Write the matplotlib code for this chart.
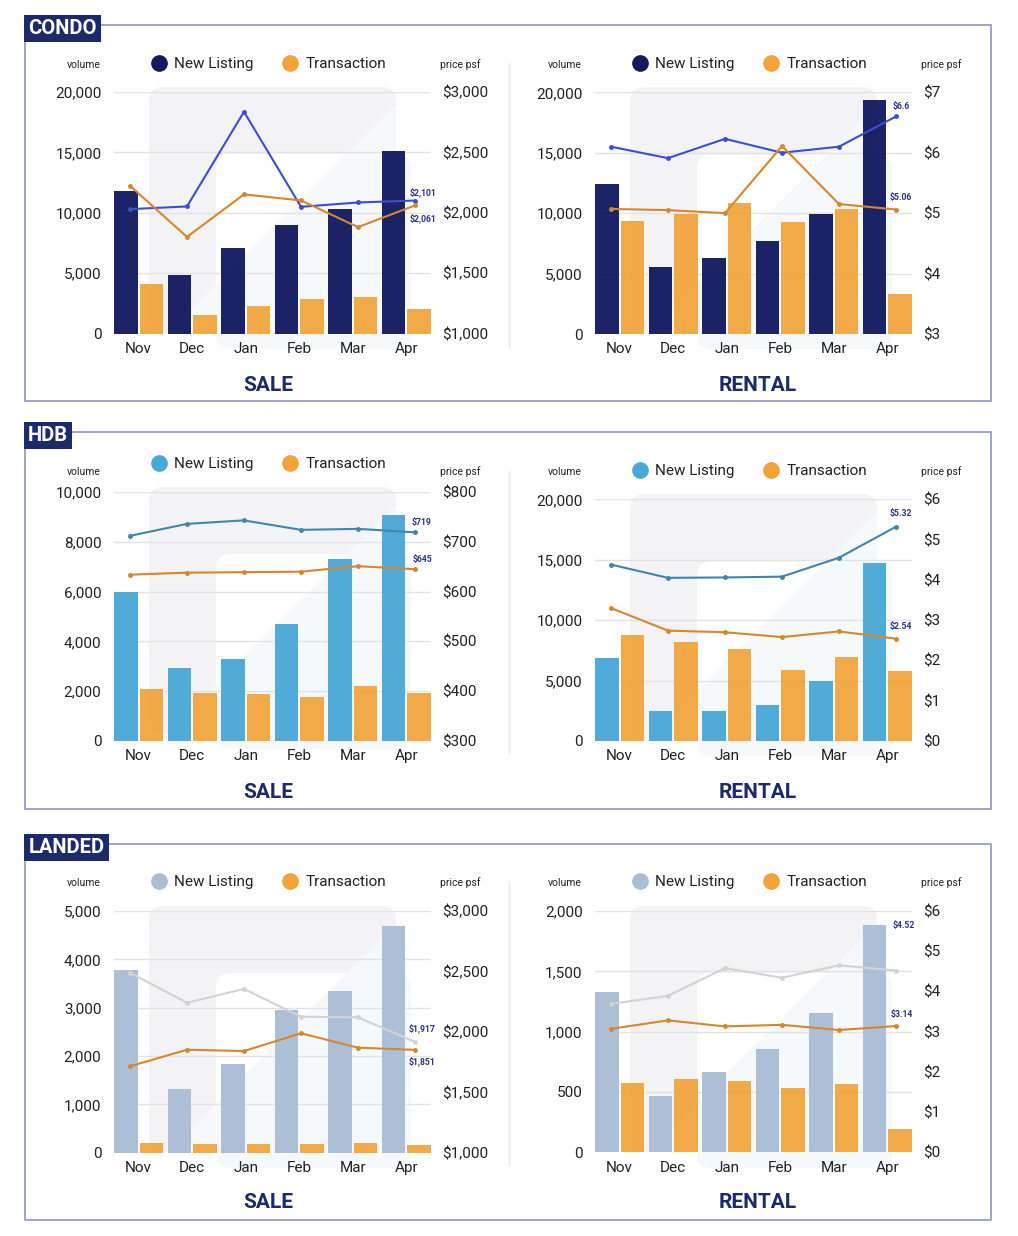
import matplotlib
matplotlib.use("Agg")
import matplotlib.pyplot as plt
from matplotlib.patches import Rectangle, FancyBboxPatch, Polygon
from matplotlib.lines import Line2D
from matplotlib.transforms import Affine2D

plt.rcParams["font.family"] = ["Roboto", "DejaVu Sans"]

# --- data ---
months = ["Nov", "Dec", "Jan", "Feb", "Mar", "Apr"]

condo_sale_new = [11820, 4830, 7120, 8950, 10270, 15130]
condo_sale_txn = [4140, 1570, 2260, 2870, 3030, 2070]
condo_sale_new_psf = [2030, 2052, 2836, 2049, 2085, 2101]
condo_sale_txn_psf = [2223, 1800, 2152, 2102, 1881, 2061]

condo_rent_new = [12440, 5520, 6270, 7700, 9960, 19340]
condo_rent_txn = [9350, 9960, 10820, 9270, 10350, 3310]
condo_rent_new_psf = [6.10, 5.91, 6.23, 6.00, 6.10, 6.6]
condo_rent_txn_psf = [5.07, 5.05, 5.00, 6.11, 5.15, 5.06]

hdb_sale_new = [5970, 2920, 3290, 4710, 7310, 9090]
hdb_sale_txn = [2090, 1910, 1890, 1780, 2220, 1910]
hdb_sale_new_psf = [712, 736, 743, 724, 726, 719]
hdb_sale_txn_psf = [634, 638, 639, 640, 651, 645]

hdb_rent_new = [6900, 2480, 2510, 2980, 4970, 14740]
hdb_rent_txn = [8800, 8200, 7640, 5850, 6950, 5790]
hdb_rent_new_psf = [4.38, 4.05, 4.06, 4.08, 4.55, 5.32]
hdb_rent_txn_psf = [3.30, 2.74, 2.70, 2.58, 2.72, 2.54]

landed_sale_new = [3780, 1310, 1830, 2950, 3350, 4700]
landed_sale_txn = [207, 186, 180, 174, 200, 153]
landed_sale_new_psf = [2489, 2241, 2355, 2125, 2120, 1917]
landed_sale_txn_psf = [1715, 1852, 1841, 1988, 1869, 1851]

landed_rent_new = [1331, 469, 666, 856, 1152, 1881]
landed_rent_txn = [574, 610, 593, 535, 569, 193]
landed_rent_new_psf = [3.69, 3.89, 4.58, 4.34, 4.65, 4.52]
landed_rent_txn_psf = [3.07, 3.28, 3.13, 3.17, 3.04, 3.14]

# --- styles ---
W, H = 1018, 1236
NAVY = "#1b2a6b"
ORANGE = "#f2a33a"
ORANGE_LINE = "#d8862a"
LABEL_C = "#2b3480"
FRAME_C = "#8e94c4"
TXT = "#222222"

fig = plt.figure(figsize=(W / 100, H / 100), dpi=100)
fig.patch.set_facecolor("white")
pix = Affine2D().scale(1 / W, 1 / H) + fig.transFigure


def P(x, y):
    return (x, H - y)


def frac(l, t, r, b):
    return [l / W, 1 - b / H, (r - l) / W, (b - t) / H]


def watermark(l, t):
    # faint logo behind each chart
    gx0, gx1, gy0, gy1 = l + 35, l + 282, t - 5, t + 241
    ix0, ix1, iy0, iy1 = l + 102, l + 297, t + 62, t + 257
    s = gx1 + t + 13  # diagonal: x + y = s
    upper = Polygon([P(l - 200, t - 200), P(s - (t - 200), t - 200),
                     P(l - 200, s - (l - 200))], closed=True, transform=pix)
    lower = [P(s - (t - 200), t - 200), P(l + 600, t - 200),
             P(l + 600, t + 600), P(s - (t + 600), t + 600)]
    gray = FancyBboxPatch(P(gx0, gy1), gx1 - gx0, gy1 - gy0,
                          boxstyle="round,pad=0,rounding_size=14",
                          transform=pix, fc="#f3f3f6", ec="none", zorder=-3)
    gray.set_clip_path(upper)
    fig.add_artist(gray)
    inner = FancyBboxPatch(P(ix0, iy1), ix1 - ix0, iy1 - iy0,
                           boxstyle="round,pad=0,rounding_size=14",
                           transform=pix, fc="white", ec="none", zorder=-2)
    fig.add_artist(inner)
    for x0, x1, y0, y1 in [(gx0, gx1, gy0, gy1), (ix0, ix1, iy0, iy1)]:
        clip = FancyBboxPatch(P(x0, y1), x1 - x0, y1 - y0,
                              boxstyle="round,pad=0,rounding_size=14",
                              transform=pix)
        lb = Polygon(lower, closed=True, transform=pix,
                     fc="#f6f9fc", ec="none", zorder=-1)
        lb.set_clip_path(clip)
        fig.add_artist(lb)


def panel(box, new, txn, new_psf, txn_psf, vmax, vstep, pmin, pmax, pstep,
          bar_c, line_c, legend_y, unit_y, offs, money_fmt):
    l, t, r, b = box
    watermark(l, t)
    ax = fig.add_axes(frac(l, t, r, b))
    ax.set_facecolor("none")
    x = list(range(len(months)))
    ax.bar([i - 0.24 for i in x], new, width=0.44, color=bar_c, alpha=0.96, zorder=2)
    ax.bar([i + 0.24 for i in x], txn, width=0.44, color=ORANGE, alpha=0.93, zorder=2)
    ax.set_xlim(-0.46, 5.46)
    ax.set_ylim(0, vmax)
    ax.set_yticks(range(0, vmax + 1, vstep))
    ax.set_yticklabels([f"{v:,}" for v in range(0, vmax + 1, vstep)])
    ax.set_xticks(x)
    ax.set_xticklabels(months)
    ax.tick_params(length=0, labelsize=11, colors=TXT)
    ax.tick_params(axis="y", pad=9)
    ax.tick_params(axis="x", pad=6)
    ax.grid(axis="y", color="#e3e3e3", lw=1, zorder=0)
    ax.set_axisbelow(True)
    for sp in ax.spines.values():
        sp.set_visible(False)

    al = fig.add_axes(frac(l, t, r, b))
    al.set_facecolor("none")
    al.plot(x, new_psf, color=line_c, lw=1.5, marker="o", ms=2.5, zorder=3)
    al.plot(x, txn_psf, color=ORANGE_LINE, lw=1.5, marker="o", ms=2.5, zorder=3)
    al.set_xlim(-0.28, 5.28)
    al.set_ylim(pmin, pmax)
    pt = []
    v = pmin
    while v <= pmax + 1e-9:
        pt.append(v)
        v += pstep
    al.set_yticks(pt)
    al.set_yticklabels([f"${v:,.0f}" for v in pt])
    al.yaxis.tick_right()
    al.set_xticks([])
    al.tick_params(length=0, labelsize=11, colors=TXT, pad=8)
    for sp in al.spines.values():
        sp.set_visible(False)
    for vals, off in zip([new_psf, txn_psf], offs):
        al.annotate(money_fmt(vals[-1]), (x[-1], vals[-1]), xytext=off,
                    textcoords="offset pixels", ha="center", va="center",
                    fontsize=6.2, fontweight="bold", color=LABEL_C)

    cx = (l + r) / 2 - 4
    handles = [Line2D([], [], ls="none", marker="o", ms=11, color=bar_c),
               Line2D([], [], ls="none", marker="o", ms=11, color=ORANGE)]
    fig.legend(handles, ["New Listing", "Transaction"], ncol=2, frameon=False,
               loc="center", bbox_to_anchor=(cx / W, 1 - legend_y / H),
               fontsize=11, handlelength=1.0, handletextpad=0.5,
               columnspacing=1.9, labelcolor=TXT)
    fig.text((l - 30) / W, 1 - unit_y / H, "volume", ha="center", va="center",
             fontsize=7.5, color=TXT)
    fig.text((r + 29) / W, 1 - unit_y / H, "price psf", ha="center", va="center",
             fontsize=7.5, color=TXT)


def sale_fmt(v):
    return f"${v:,.0f}"


def rent_fmt(v):
    return f"${v:g}"


def section(name, top, bottom, head_w, title_y, sep):
    fig.add_artist(Rectangle(P(25, bottom), 966, bottom - top, transform=pix,
                             fill=False, ec=FRAME_C, lw=1.2, zorder=-5))
    fig.add_artist(Rectangle(P(24, top + 17), head_w, 27, transform=pix,
                             fc=NAVY, ec="none", zorder=5))
    fig.text((24 + head_w / 2) / W, 1 - (top + 3.5) / H, name, ha="center",
             va="center", fontsize=14.5, fontweight="bold", color="white", zorder=6)
    fig.text(268 / W, 1 - title_y / H, "SALE", ha="center", va="center",
             fontsize=15, fontweight="bold", color=NAVY)
    fig.text(758 / W, 1 - title_y / H, "RENTAL", ha="center", va="center",
             fontsize=15, fontweight="bold", color=NAVY)
    fig.add_artist(Line2D([509 / W, 509 / W], [1 - sep[0] / H, 1 - sep[1] / H],
                          color="#e6e6e6", lw=1))


section("CONDO", 25, 401, 77, 385, (63, 347))
section("HDB", 432, 809, 48, 792, (471, 753))
section("LANDED", 844, 1220, 85, 1203, (883, 1165))

panel((114, 92, 431, 333.5), condo_sale_new, condo_sale_txn,
      condo_sale_new_psf, condo_sale_txn_psf, 20000, 5000, 1000, 3000, 500,
      "#121a60", "#3a4fcf", 64, 65, [(8, 8), (8, -13)], sale_fmt)
panel((595, 92.3, 912, 334), condo_rent_new, condo_rent_txn,
      condo_rent_new_psf, condo_rent_txn_psf, 20000, 5000, 3, 7, 1,
      "#121a60", "#3a4fcf", 64, 65, [(5, 10), (5, 12)], rent_fmt)
panel((114, 492, 431, 741), hdb_sale_new, hdb_sale_txn,
      hdb_sale_new_psf, hdb_sale_txn_psf, 10000, 2000, 300, 800, 100,
      "#4aa8d8", "#3d87ad", 464, 472, [(7, 10), (7, 10)], sale_fmt)
panel((595, 499.3, 912, 741), hdb_rent_new, hdb_rent_txn,
      hdb_rent_new_psf, hdb_rent_txn_psf, 20000, 5000, 0, 6, 1,
      "#4aa8d8", "#3d87ad", 471, 472, [(5, 13), (5, 12)], rent_fmt)
panel((114, 911, 431, 1152.7), landed_sale_new, landed_sale_txn,
      landed_sale_new_psf, landed_sale_txn_psf, 5000, 1000, 1000, 3000, 500,
      "#a9bdd5", "#d3d3d3", 882, 883, [(7, 14), (7, -11)], sale_fmt)
panel((595, 911, 912, 1152.3), landed_rent_new, landed_rent_txn,
      landed_rent_new_psf, landed_rent_txn_psf, 2000, 500, 0, 6, 1,
      "#a9bdd5", "#d3d3d3", 882, 883, [(8, 45), (6, 12)], rent_fmt)

fig.savefig("out.png", dpi=100, facecolor="white")
